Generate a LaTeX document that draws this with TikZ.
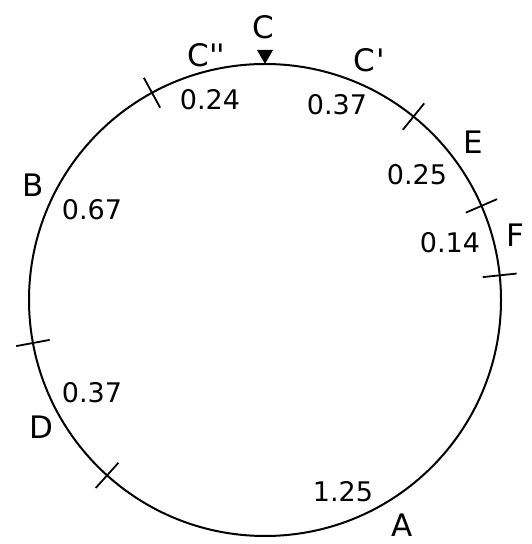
\documentclass[tikz,border=0pt]{standalone}
\usepackage{fontspec}
\setmainfont{DejaVu Sans}
\newfontfamily\labfont{DejaVu Sans}
\usetikzlibrary{calc}
\begin{document}
\begin{tikzpicture}[x=1pt,y=1pt,
  ring/.style={line width=2pt},
  tickmark/.style={line width=1.8pt},
  lab/.style={font=\labfont\fontsize{31}{31}\selectfont, inner sep=0pt},
  num/.style={font=\labfont\fontsize{27}{27}\selectfont, inner sep=0pt}]
\useasboundingbox (0,0) rectangle (532,544);
\coordinate (O) at (265,244);
\def\R{236}
\draw[ring] (O) circle (\R);
% tick marks (radial)
\foreach \a in {118.6,51,23.5,6,190.5,228}
  \draw[tickmark] ($(O)+(\a:\R-17)$) -- ($(O)+(\a:\R+17)$);
% marker at C
\coordinate (tipC) at (265,480);
\fill (tipC) -- (257,494) -- (273,494) -- cycle;
% labels
\node[lab] (C) at (263,517) {C};
\node[lab] (Cpp) at (206,489) {C\kern1pt'\kern-2pt'};
\node[lab] (Cp) at (369,484) {C\kern1pt'};
\node[lab] (E) at (473,402) {E};
\node[lab] (F) at (515,309) {F};
\node[lab] (B) at (33,359) {B};
\node[lab] (D) at (41,117) {D};
\node[lab] (A) at (402,19) {A};
\node[num] (n1) at (210,444) {0.24};
\node[num] (n2) at (337,439) {0.37};
\node[num] (n3) at (417,369) {0.25};
\node[num] (n4) at (450,301) {0.14};
\node[num] (n5) at (92,334) {0.67};
\node[num] (n6) at (92,151) {0.37};
\node[num] (n7) at (343,52) {1.25};
\end{tikzpicture}
\end{document}
